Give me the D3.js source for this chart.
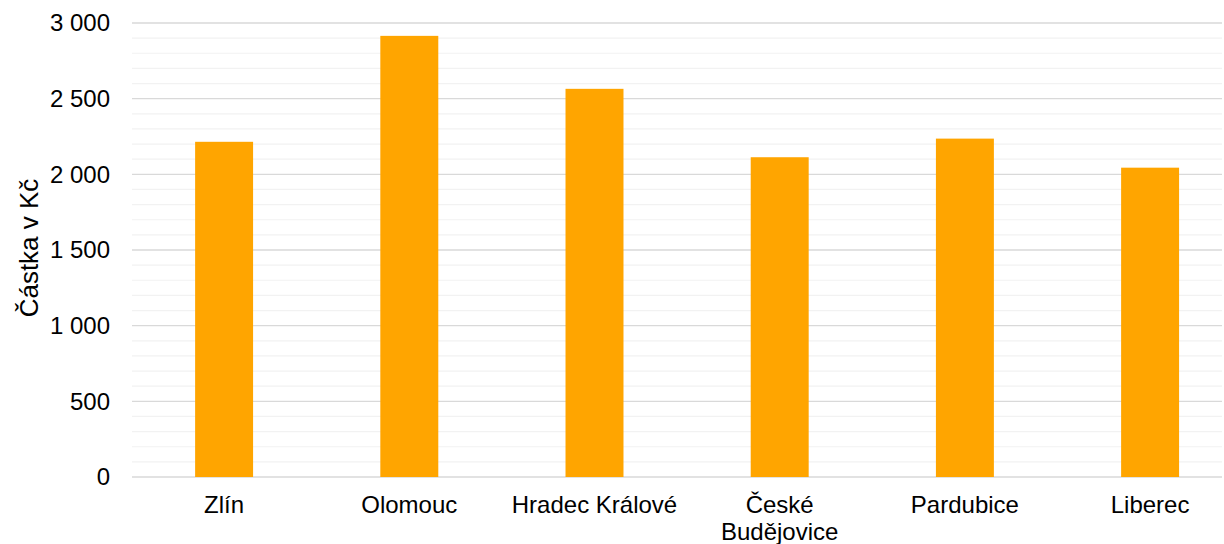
<!DOCTYPE html>
<html><head><meta charset="utf-8">
<script src="https://cdn.jsdelivr.net/npm/d3@7"></script>
<style>body{margin:0;background:#fff}svg text{font-family:"Liberation Sans",Arial,sans-serif;fill:#000}</style>
</head><body><svg id="c" width="1224" height="544"></svg>
<script>
const categories = ["Zlín","Olomouc","Hradec Králové","České Budějovice","Pardubice","Liberec"];
const values = [2215, 2915, 2565, 2113, 2236, 2044];
const majorTicks = [0,500,1000,1500,2000,2500,3000];
const yLabel = "Částka v Kč";

const svg = d3.select("#c");
const W = 1224, H = 544;
const gridL = 132, gridR = 1222;
const x = d3.scaleBand().domain(categories).range([131.5, 1242.7]).paddingInner(0.687).paddingOuter(0.3435);
const y = d3.scaleLinear().domain([0,3000]).range([477, 23]);

const minor = d3.range(0,3001,100).filter(v=>v%500!==0);
svg.append("g").selectAll("line").data(minor).join("line")
  .attr("x1",gridL).attr("x2",gridR).attr("y1",d=>y(d)).attr("y2",d=>y(d))
  .attr("stroke","#f2f2f2").attr("stroke-width",1.2);
svg.append("g").selectAll("line").data(majorTicks).join("line")
  .attr("x1",gridL).attr("x2",gridR).attr("y1",d=>y(d)).attr("y2",d=>y(d))
  .attr("stroke","#d9d9d9").attr("stroke-width",1.3);

svg.append("g").selectAll("rect").data(values).join("rect")
  .attr("x",(d,i)=>x(categories[i])).attr("width",x.bandwidth())
  .attr("y",d=>y(d)).attr("height",d=>y(0)-y(d)).attr("fill","#FFA500");

const fmt = v => d3.format(",")(v).replace(/,/g," ");
const yAxis = d3.axisLeft(y).tickValues(majorTicks).tickFormat(fmt).tickSize(0).tickPadding(22);
const ga = svg.append("g").attr("transform",`translate(${gridL},0)`).call(yAxis);
ga.select(".domain").remove();
ga.selectAll("text").style("font-size","24px").style("font-family","Liberation Sans, Arial, sans-serif").attr("fill","#000");

const xl = svg.append("g");
categories.forEach(c=>{
  const cx = x(c)+x.bandwidth()/2;
  const words = c === "České Budějovice" ? ["České","Budějovice"] : [c];
  words.forEach((w,j)=>{
    xl.append("text").attr("x",cx).attr("y",513+j*27).attr("text-anchor","middle")
      .style("font-size","24px").text(w);
  });
});

svg.append("text").attr("transform",`translate(38,248) rotate(-90)`)
  .attr("text-anchor","middle").style("font-size","26px").text(yLabel);
</script></body></html>
